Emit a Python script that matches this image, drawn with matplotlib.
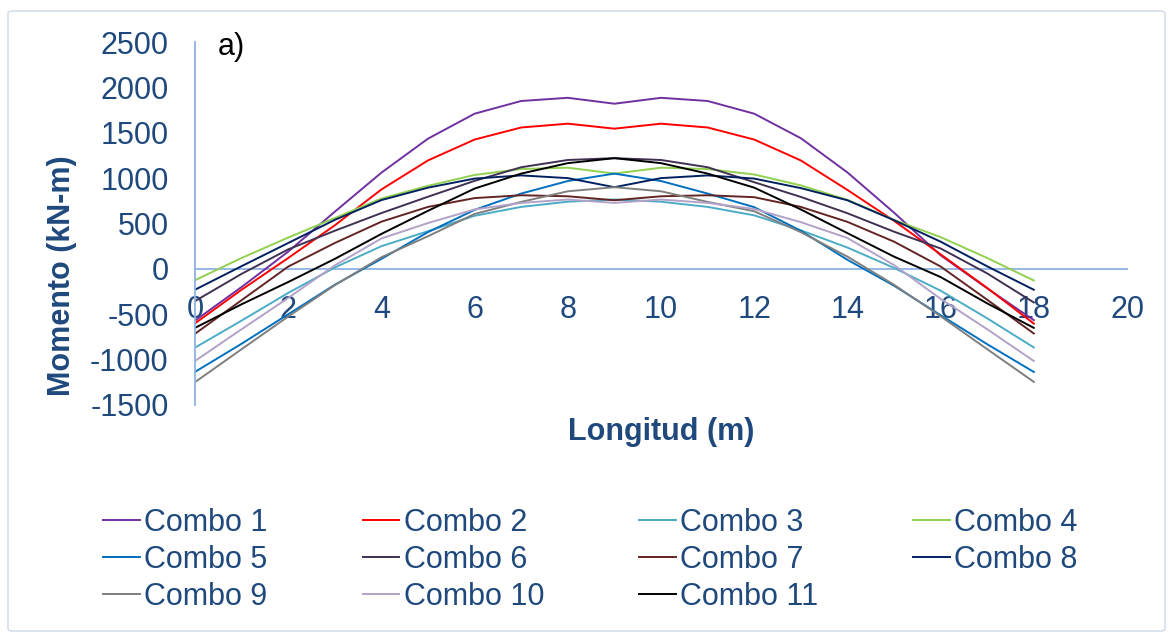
import matplotlib
matplotlib.use('Agg')
import matplotlib.pyplot as plt
from matplotlib.patches import FancyBboxPatch

plt.rcParams['font.family'] = ['Liberation Sans', 'DejaVu Sans']
plt.rcParams['axes.unicode_minus'] = False

# Position along the beam (m)
longitud = list(range(0, 19))

# Bending moment per load combination (kN-m)
combo_1 = [-570, -200, 190, 630, 1060, 1435, 1710, 1850, 1885, 1820, 1885, 1850, 1710, 1440, 1063, 620, 150, -215, -565]
combo_2 = [-600, -230, 120, 480, 875, 1195, 1425, 1558, 1600, 1545, 1600, 1558, 1425, 1195, 870, 530, 160, -210, -603]
combo_3 = [-868, -570, -265, 15, 250, 415, 585, 683, 740, 765, 740, 683, 590, 425, 235, 11, -240, -545, -866]
combo_4 = [-125, 120, 345, 560, 775, 915, 1035, 1100, 1115, 1050, 1115, 1100, 1040, 920, 760, 540, 350, 120, -128]
combo_5 = [-1135, -825, -500, -175, 110, 405, 650, 830, 968, 1050, 968, 830, 680, 420, 100, -185, -510, -830, -1136]
combo_6 = [-355, -55, 215, 420, 615, 795, 970, 1120, 1200, 1220, 1200, 1120, 955, 793, 613, 410, 225, -50, -370]
combo_7 = [-715, -345, 25, 285, 520, 683, 780, 811, 800, 756, 800, 811, 790, 683, 518, 300, 26, -340, -712]
combo_8 = [-230, 30, 285, 540, 758, 895, 995, 1030, 1000, 900, 1000, 1030, 995, 890, 756, 537, 300, 28, -230]
combo_9 = [-1248, -885, -525, -180, 128, 360, 605, 738, 855, 900, 855, 738, 635, 405, 135, -175, -522, -885, -1245]
combo_10 = [-1015, -665, -320, 38, 335, 505, 655, 727, 764, 727, 764, 727, 660, 515, 340, 42, -330, -665, -1015]
combo_11 = [-650, -390, -145, 110, 385, 640, 885, 1050, 1165, 1220, 1165, 1050, 895, 655, 394, 135, -90, -380, -650]

series = [combo_1, combo_2, combo_3, combo_4, combo_5, combo_6,
          combo_7, combo_8, combo_9, combo_10, combo_11]
labels = ['Combo %d' % (i + 1) for i in range(len(series))]
colors = ['#7030A0', '#FF0000', '#4BACC6', '#92D050', '#0070C0', '#403152',
          '#632523', '#002060', '#7F7F7F', '#B3A2C7', '#000000']

text_color = '#1F497D'
axis_color = '#8EB4E3'
fs = 22

fig = plt.figure(figsize=(11.74, 6.41), dpi=100)
ax = fig.add_axes([195 / 1174, 1 - 405 / 641, (1127 - 195) / 1174, (405 - 42) / 641])

# Outer chart border
fig.patches.append(FancyBboxPatch((8 / 1174, 10 / 641), 1157 / 1174, 620 / 641,
                                  boxstyle='round,pad=0,rounding_size=0.004',
                                  transform=fig.transFigure, facecolor='none',
                                  edgecolor='#D5DFEC', linewidth=1.2))

handles = []
for vals, lab, col in zip(series, labels, colors):
    h, = ax.plot(longitud, vals, color=col, linewidth=1.4, label=lab)
    handles.append(h)

ax.set_xlim(0, 20)
ax.set_ylim(-1500, 2500)
ax.set_xticks(range(0, 21, 2))
ax.set_yticks(range(-1500, 2501, 500))

for s in ['top', 'right']:
    ax.spines[s].set_visible(False)
ax.spines['bottom'].set_position(('data', 0))
ax.spines['bottom'].set_color(axis_color)
ax.spines['left'].set_color(axis_color)
ax.spines['bottom'].set_linewidth(1.3)
ax.spines['left'].set_linewidth(1.3)
ax.spines['bottom'].set_zorder(0.5)

ax.tick_params(axis='x', length=0, pad=19, labelsize=fs, labelcolor=text_color)
ax.tick_params(axis='y', length=0, pad=19, labelsize=fs, labelcolor=text_color)

fig.text(62 / 1174, 1 - 276 / 641, 'Momento (kN-m)', rotation=90, fontsize=fs,
         fontweight='bold', color=text_color, ha='center', va='center')
fig.text(661 / 1174, 1 - 432 / 641, 'Longitud (m)', fontsize=fs,
         fontweight='bold', color=text_color, ha='center', va='center')
fig.text(218 / 1174, 1 - 47 / 641, 'a)', fontsize=fs, color='black',
         ha='left', va='center')

# Excel fills the legend row by row; matplotlib fills column by column
order = [0, 4, 8, 1, 5, 9, 2, 6, 10, 3, 7]
leg = fig.legend([handles[i] for i in order], [labels[i] for i in order],
                 ncol=4, loc='center left', bbox_to_anchor=(91 / 1174, 1 - 560 / 641),
                 frameon=False, fontsize=fs, handlelength=1.2, handletextpad=0.15,
                 columnspacing=3.1, labelspacing=0.23, borderaxespad=0)
for t in leg.get_texts():
    t.set_color(text_color)

fig.savefig('out.png', dpi=100)
